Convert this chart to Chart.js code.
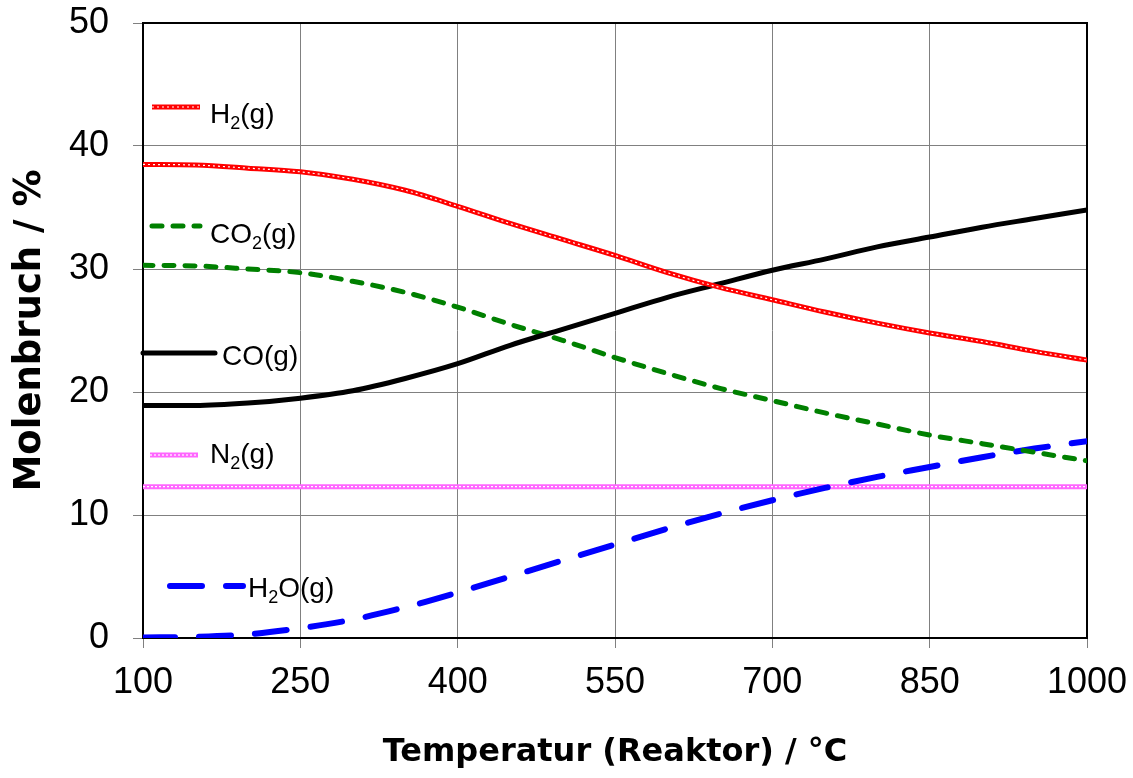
<!DOCTYPE html>
<html>
<head>
<meta charset="utf-8">
<script src="https://cdn.jsdelivr.net/npm/chart.js"></script>
<style>
  html, body { margin: 0; padding: 0; background: #fff; }
  #wrap { width: 1133px; height: 778px; }
</style>
</head>
<body>
<div id="wrap"><canvas id="chart" width="1133" height="778"></canvas></div>
<script>
// Temperatur (Reaktor) in °C
const temps = [100, 150, 200, 250, 300, 350, 400, 450, 500, 550, 600, 650, 700, 750, 800, 850, 900, 950, 1000];

// Molenbruch in %
const h2  = [38.5, 38.45, 38.2, 37.9, 37.3, 36.4, 35.1, 33.7, 32.4, 31.1, 29.7, 28.5, 27.5, 26.5, 25.6, 24.8, 24.1, 23.3, 22.6];
const co2 = [30.3, 30.25, 30.0, 29.7, 29.0, 28.1, 26.9, 25.5, 24.2, 22.8, 21.5, 20.3, 19.3, 18.3, 17.4, 16.5, 15.8, 15.1, 14.4];
const co  = [18.9, 18.9, 19.1, 19.5, 20.1, 21.1, 22.3, 23.8, 25.1, 26.4, 27.7, 28.8, 29.9, 30.8, 31.8, 32.6, 33.4, 34.1, 34.8];
const n2  = [12.3, 12.3, 12.3, 12.3, 12.3, 12.3, 12.3, 12.3, 12.3, 12.3, 12.3, 12.3, 12.3, 12.3, 12.3, 12.3, 12.3, 12.3, 12.3];
const h2o = [0.05, 0.1, 0.3, 0.8, 1.5, 2.5, 3.7, 5.0, 6.3, 7.6, 8.9, 10.1, 11.2, 12.2, 13.1, 13.9, 14.7, 15.4, 16.0];

const xTicks = [100, 250, 400, 550, 700, 850, 1000];

const pts = arr => temps.map((t, i) => ({x: t, y: arr[i]}));

const lineBase = {
  pointRadius: 0,
  fill: false,
  cubicInterpolationMode: 'monotone',
  borderCapStyle: 'round',
};

const datasets = [
  {...lineBase, label: 'N2(g)', data: pts(n2), borderColor: '#ff66ff', borderWidth: 5, order: 10},
  {...lineBase, label: 'N2 dots', data: pts(n2), borderColor: '#ffffff', borderWidth: 1.2, borderDash: [2, 2], borderCapStyle: 'butt', order: 9},
  {...lineBase, label: 'H2O(g)', data: pts(h2o), borderColor: '#0000ff', borderWidth: 6, borderDash: [32, 24], order: 8},
  {...lineBase, label: 'CO2(g)', data: pts(co2), borderColor: '#008000', borderWidth: 5, borderDash: [10, 11], order: 7},
  {...lineBase, label: 'CO(g)', data: pts(co), borderColor: '#000000', borderWidth: 5, order: 6},
  {...lineBase, label: 'H2(g)', data: pts(h2), borderColor: '#ff0000', borderWidth: 5, order: 5},
  {...lineBase, label: 'H2 dots', data: pts(h2), borderColor: '#ffffff', borderWidth: 1.2, borderDash: [2, 3], borderCapStyle: 'butt', order: 4},
];

// legend entries drawn inside the plot, offsets from the plot's left/top edge
const legendItems = [
  {parts: [['H'], ['2', 1], ['(g)']], y: 84, x0: 9, x1: 57, tx: 67, base: 100, style: 'h2'},
  {parts: [['CO'], ['2', 1], ['(g)']], y: 203, x0: 9, x1: 57, tx: 67, base: 220, style: 'co2'},
  {parts: [['CO(g)']], y: 330, x0: 0, x1: 72, tx: 79, base: 342, style: 'co'},
  {parts: [['N'], ['2', 1], ['(g)']], y: 432, x0: 7, x1: 55, tx: 67, base: 440, style: 'n2'},
  {parts: [['H'], ['2', 1], ['O(g)']], y: 563, x0: 27, x1: 100, tx: 105, base: 574, style: 'h2o'},
];

const legendPlugin = {
  id: 'inlineLegend',
  afterDraw(chart) {
    const ctx = chart.ctx;
    const a = chart.chartArea;
    ctx.save();
    legendItems.forEach(it => {
      const y = a.top + it.y;
      const x0 = a.left + it.x0, x1 = a.left + it.x1;
      const seg = (color, w, dash, cap) => {
        ctx.beginPath();
        ctx.strokeStyle = color;
        ctx.lineWidth = w;
        ctx.setLineDash(dash);
        ctx.lineCap = cap;
        ctx.moveTo(x0, y);
        ctx.lineTo(x1, y);
        ctx.stroke();
      };
      if (it.style === 'h2') { seg('#ff0000', 5, [], 'butt'); seg('#ffffff', 1.2, [2, 3], 'butt'); }
      if (it.style === 'co2') { seg('#008000', 5, [10, 11], 'round'); }
      if (it.style === 'co') { seg('#000000', 5, [], 'round'); }
      if (it.style === 'n2') { seg('#ff66ff', 5, [], 'butt'); seg('#ffffff', 1.2, [2, 2], 'butt'); }
      if (it.style === 'h2o') { seg('#0000ff', 6, [32, 24], 'round'); }

      ctx.setLineDash([]);
      ctx.fillStyle = '#000';
      ctx.textBaseline = 'alphabetic';
      ctx.textAlign = 'left';
      let x = a.left + it.tx;
      const base = a.top + it.base;
      it.parts.forEach(p => {
        const sub = p[1] === 1;
        ctx.font = sub ? '18px "Liberation Sans", Arial, sans-serif' : '28px "Liberation Sans", Arial, sans-serif';
        ctx.fillText(p[0], x, sub ? base + 6 : base);
        x += ctx.measureText(p[0]).width;
      });
    });
    ctx.restore();
  }
};

const framePlugin = {
  id: 'frame',
  beforeDatasetsDraw(chart) {
    const ctx = chart.ctx;
    const a = chart.chartArea;
    ctx.save();
    ctx.strokeStyle = '#000';
    ctx.lineWidth = 2;
    ctx.strokeRect(a.left, a.top, a.right - a.left, a.bottom - a.top);
    ctx.restore();
  }
};

const tickFont = {family: '"Liberation Sans", Arial, sans-serif', size: 36};

const config = {
  type: 'line',
  data: {datasets: datasets},
  options: {
    responsive: false,
    animation: false,
    layout: {padding: {left: 0, top: 23, right: 46, bottom: 0}},
    plugins: {
      legend: {display: false},
      tooltip: {enabled: false},
    },
    scales: {
      x: {
        type: 'linear',
        min: 100,
        max: 1000,
        afterBuildTicks: s => { s.ticks = xTicks.map(v => ({value: v})); },
        afterFit: s => { s.height = 140; s.paddingLeft = 0; s.paddingRight = 0; },
        grid: {color: '#808080', lineWidth: 1, tickLength: 10},
        border: {display: false},
        ticks: {font: tickFont, color: '#000', padding: 13, maxRotation: 0, callback: v => String(v)},
        title: {display: true, text: 'Temperatur (Reaktor) / °C', font: {family: '"DejaVu Sans", sans-serif', size: 32, weight: 'bold'}, color: '#000', padding: {top: 0, bottom: 6}},
      },
      y: {
        min: 0,
        max: 50,
        afterFit: s => { s.width = 143; s.paddingTop = 0; s.paddingBottom = 0; },
        grid: {color: '#808080', lineWidth: 1, tickLength: 10},
        border: {display: false},
        ticks: {stepSize: 10, font: tickFont, color: '#000', padding: 24, callback: v => String(v)},
        title: {display: true, text: 'Molenbruch / %', font: {family: '"DejaVu Sans", sans-serif', size: 37, weight: 'bold'}, color: '#000', padding: {top: 8, bottom: 0}},
      }
    }
  },
  plugins: [framePlugin, legendPlugin]
};

const chart = new Chart(document.getElementById('chart'), config);
</script>
</body>
</html>
